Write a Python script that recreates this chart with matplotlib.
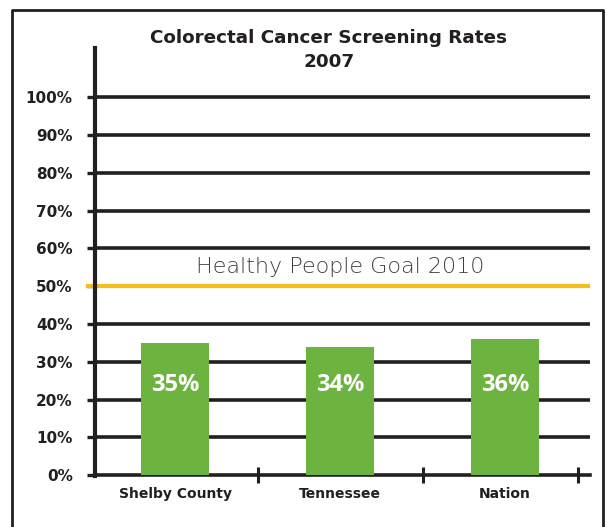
import matplotlib.pyplot as plt
from matplotlib.lines import Line2D

# -- Data --
places = ['Shelby County', 'Tennessee', 'Nation']
rates = [35, 34, 36]
bar_labels = ['35%', '34%', '36%']
goal_rate = 50
goal_text = 'Healthy People Goal 2010'
y_ticks = list(range(0, 101, 10))
y_tick_labels = [f'{v}%' for v in y_ticks]

dark = '#231f20'
green = '#6cb33f'
gold = '#f6be1a'

fig = plt.figure(figsize=(6.06, 5.27), dpi=100)
ax = fig.add_axes([95 / 606, 1 - 476 / 527, 495 / 606, 428 / 527])

x = list(range(len(places)))
ax.bar(x, rates, width=0.41, color=green, zorder=3)

# gridlines at each 10%
for v in y_ticks[1:]:
    ax.axhline(v, color=dark, lw=2.6, zorder=1)

# goal line, sticks out left of the axis a bit
ax.plot([-0.53, 2.5], [goal_rate, goal_rate], color=gold, lw=3, zorder=2, clip_on=False)
ax.text(1.0, goal_rate + 5.2, goal_text, ha='center', va='center',
        fontsize=16, color='#404040', family='DejaVu Sans', fontweight='light')

for xi, lab in zip(x, bar_labels):
    ax.text(xi, 24, lab, ha='center', va='center', color='white',
            fontsize=17, fontweight='bold', family='Open Sans', zorder=4)

# category names under the bars
for xi, name in zip(x, places):
    ax.text(xi, -0.026, name, transform=ax.get_xaxis_transform(), ha='center', va='top',
            fontsize=10, fontweight='bold', color=dark)

ax.set_xlim(-0.485, 2.515)
ax.set_ylim(-0.2, 113)

ax.set_yticks(y_ticks)
ax.set_yticklabels(y_tick_labels, fontsize=11, fontweight='bold', color=dark)
ax.tick_params(axis='y', length=6, width=2.4, color=dark, pad=10)

# divider ticks between categories
ax.set_xticks([0.5, 1.5, 2.44])
ax.set_xticklabels([])
ax.tick_params(axis='x', direction='inout', length=11, width=2.2, color=dark)

for side in ['top', 'right']:
    ax.spines[side].set_visible(False)
ax.spines['left'].set_linewidth(3)
ax.spines['left'].set_color(dark)
ax.spines['bottom'].set_linewidth(2.6)
ax.spines['bottom'].set_color(dark)
ax.spines['bottom'].set_position(('data', 0))

fig.text(329 / 606, 1 - 38 / 527, 'Colorectal Cancer Screening Rates', ha='center', va='center',
         fontsize=13.2, fontweight='bold', family='DejaVu Sans', color=dark)
fig.text(329 / 606, 1 - 62 / 527, '2007', ha='center', va='center',
         fontsize=13.2, fontweight='bold', family='DejaVu Sans', color=dark)

# outer frame (no bottom edge)
fx0, fx1, fy1 = 12 / 606, 603 / 606, 1 - 10 / 527
fig.add_artist(Line2D([fx0, fx0, fx1, fx1], [0, fy1, fy1, 0], color=dark, lw=2,
                      transform=fig.transFigure))

fig.savefig('out.png', dpi=100)
